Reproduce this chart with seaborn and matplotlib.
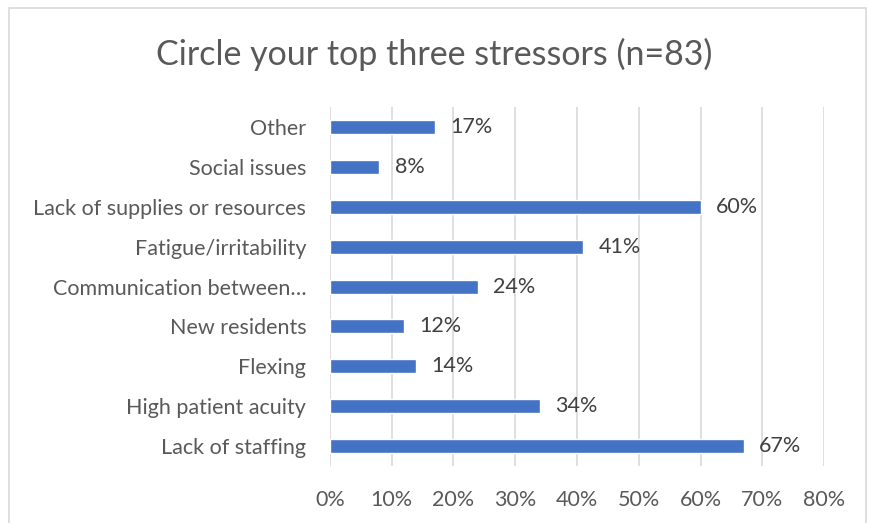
import matplotlib
matplotlib.use("Agg")
import matplotlib.pyplot as plt
import seaborn as sns
import pandas as pd
from matplotlib.patches import Rectangle

categories = [
    "Other",
    "Social issues",
    "Lack of supplies or resources",
    "Fatigue/irritability",
    "Communication between\u2026",
    "New residents",
    "Flexing",
    "High patient acuity",
    "Lack of staffing",
]
shares = [0.17, 0.08, 0.60, 0.41, 0.24, 0.12, 0.14, 0.34, 0.67]
x_ticks = [0.0, 0.1, 0.2, 0.3, 0.4, 0.5, 0.6, 0.7, 0.8]
title = "Circle your top three stressors (n=83)"

df = pd.DataFrame({"stressor": categories, "share": shares})

sns.set_theme(style="white")
plt.rcParams["font.family"] = ["Lato", "DejaVu Sans"]

fig = plt.figure(figsize=(8.69, 5.23), dpi=100)
ax = fig.add_axes([0.3797, 0.109, 0.5686, 0.686])

sns.barplot(data=df, x="share", y="stressor", order=categories, orient="h",
            color="#4472C4", width=0.35, saturation=1, ax=ax)

ax.set_xlim(0, 0.8)
ax.set_ylim(len(categories) - 0.5, -0.5)
ax.set_xticks(x_ticks)
ax.set_xticklabels([f"{int(round(t * 100))}%" for t in x_ticks])
ax.grid(axis="x", color="#D9D9D9", linewidth=1.2)
ax.set_axisbelow(True)
for s in ax.spines.values():
    s.set_visible(False)
ax.set_xlabel("")
ax.set_ylabel("")
ax.tick_params(axis="x", length=0, pad=17, labelsize=15.5, labelcolor="#595959")
ax.tick_params(axis="y", length=0, pad=17, labelsize=15.5, labelcolor="#595959")

for i, v in enumerate(shares):
    ax.annotate(f"{int(round(v * 100))}%", xy=(v, i), xytext=(11, 0),
                textcoords="offset points", va="center", ha="left",
                fontsize=15.5, color="#404040")

fig.text(0.5, 0.895, title, ha="center", va="center", fontsize=24.5,
         color="#595959")

fig.patches.append(Rectangle((9 / 869, -0.01), 857 / 869, 1 - 8 / 523 + 0.01,
                             transform=fig.transFigure, fill=False,
                             edgecolor="#D9D9D9", linewidth=1.2))

fig.savefig("out.png", dpi=100, facecolor="white")
